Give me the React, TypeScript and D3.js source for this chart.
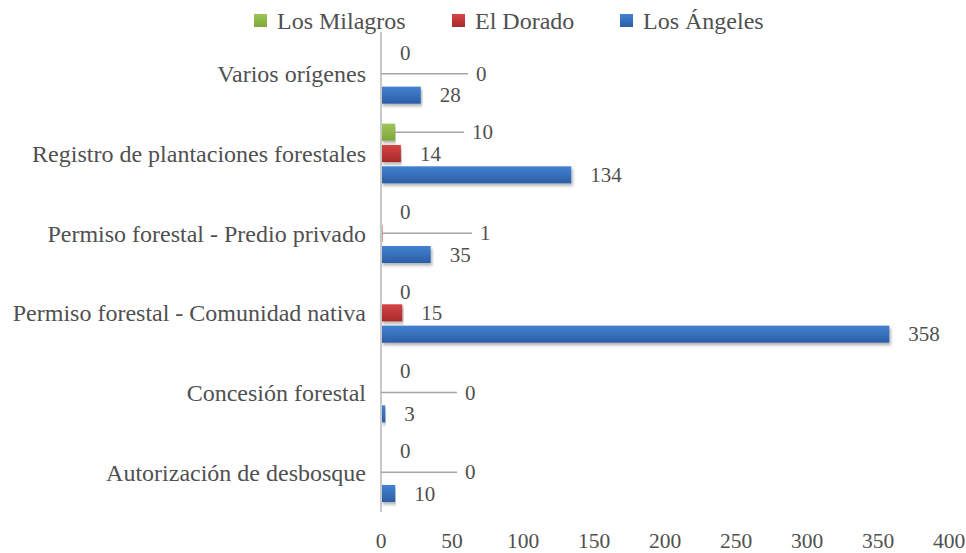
import React from "react";
import * as d3 from "d3";

const categories = [
  "Varios orígenes",
  "Registro de plantaciones forestales",
  "Permiso forestal - Predio privado",
  "Permiso forestal - Comunidad nativa",
  "Concesión forestal",
  "Autorización de desbosque",
];

const seriesNames = ["Los Milagros", "El Dorado", "Los Ángeles"];

const milagros = [0, 10, 0, 0, 0, 0];
const dorado = [0, 14, 1, 15, 0, 0];
const angeles = [28, 134, 35, 358, 3, 10];

const xTicks = [0, 50, 100, 150, 200, 250, 300, 350, 400];

// labels that were dragged right in the original, with a leader line (px from axis)
const movedLabels = [
  { series: "El Dorado", category: "Varios orígenes", labelX: 95 },
  { series: "Los Milagros", category: "Registro de plantaciones forestales", labelX: 91 },
  { series: "El Dorado", category: "Permiso forestal - Predio privado", labelX: 99 },
  { series: "El Dorado", category: "Concesión forestal", labelX: 84 },
  { series: "El Dorado", category: "Autorización de desbosque", labelX: 84 },
];

const colors = {
  "Los Milagros": ["#9dc656", "#7ea63a"],
  "El Dorado": ["#d64545", "#a82a2a"],
  "Los Ángeles": ["#4382d2", "#2c5ea6"],
};

const W = 966;
const H = 553;
const margin = { top: 34, right: 17, bottom: 41, left: 381 };
const textStyle = { fontFamily: "'Liberation Serif', 'Times New Roman', serif" };
const textColor = "#505050";

export default function App() {
  const values = [milagros, dorado, angeles];

  const x = d3.scaleLinear().domain([0, 400]).range([margin.left, W - margin.right]);
  const y = d3.scaleBand().domain(categories).range([margin.top, H - margin.bottom]);
  const inner = d3
    .scaleBand()
    .domain(seriesNames)
    .range([-32, 32])
    .paddingInner(0.2)
    .paddingOuter(0.1);

  const rows = categories.flatMap((c, ci) =>
    seriesNames.map((s, si) => ({ category: c, series: s, value: values[si][ci] }))
  );

  const legend = [
    { name: "Los Milagros", x: 254 },
    { name: "El Dorado", x: 452 },
    { name: "Los Ángeles", x: 620 },
  ];

  return (
    <svg width={W} height={H} style={{ position: "absolute", left: 0, top: 0, background: "#fff" }}>
      <defs>
        {seriesNames.map((s, i) => (
          <linearGradient key={s} id={`g${i}`} x1="0" y1="0" x2="0" y2="1">
            <stop offset="0%" stopColor={colors[s][0]} />
            <stop offset="100%" stopColor={colors[s][1]} />
          </linearGradient>
        ))}
        <filter id="shadow" x="-5%" y="-20%" width="110%" height="160%">
          <feDropShadow dx="1.5" dy="2.5" stdDeviation="1.5" floodColor="#000" floodOpacity="0.3" />
        </filter>
      </defs>

      {/* legend */}
      {legend.map((l) => (
        <g key={l.name}>
          <rect
            x={l.x}
            y={14}
            width={13}
            height={13}
            fill={`url(#g${seriesNames.indexOf(l.name)})`}
          />
          <text x={l.x + 23} y={29} style={textStyle} fontSize={24} fill={textColor}>
            {l.name}
          </text>
        </g>
      ))}

      {/* category labels */}
      {categories.map((c) => (
        <text
          key={c}
          x={366}
          y={(y(c) ?? 0) + y.bandwidth() / 2 + 8.5}
          textAnchor="end"
          style={textStyle}
          fontSize={24}
          fill={textColor}
        >
          {c}
        </text>
      ))}

      {/* bars */}
      {rows.map((r) => {
        const cy = (y(r.category) ?? 0) + y.bandwidth() / 2;
        const by = cy + (inner(r.series) ?? 0);
        const w = x(r.value) - x(0);
        if (w <= 0) return null;
        return (
          <rect
            key={r.category + r.series}
            x={x(0)}
            y={by}
            width={w}
            height={inner.bandwidth()}
            fill={`url(#g${seriesNames.indexOf(r.series)})`}
            filter="url(#shadow)"
          />
        );
      })}

      {/* axis line */}
      <line x1={x(0)} x2={x(0)} y1={margin.top - 2} y2={H - margin.bottom} stroke="#c8c8c8" strokeWidth={2} />

      {/* value labels */}
      {rows.map((r) => {
        const cy = (y(r.category) ?? 0) + y.bandwidth() / 2;
        const my = cy + (inner(r.series) ?? 0) + inner.bandwidth() / 2;
        const end = x(r.value);
        const moved = movedLabels.find((m) => m.series === r.series && m.category === r.category);
        const lx = moved ? x(0) + moved.labelX : end + 19;
        return (
          <g key={"l" + r.category + r.series}>
            {moved && (
              <line x1={end} x2={lx - 8} y1={my} y2={my} stroke="#a6a6a6" strokeWidth={1.5} />
            )}
            <text x={lx} y={my + 7} style={textStyle} fontSize={21} fill={textColor}>
              {r.value}
            </text>
          </g>
        );
      })}

      {/* x tick labels */}
      {xTicks.map((t) => (
        <text
          key={t}
          x={x(t)}
          y={548}
          textAnchor="middle"
          style={textStyle}
          fontSize={21.5}
          fill={textColor}
        >
          {t}
        </text>
      ))}
    </svg>
  );
}
